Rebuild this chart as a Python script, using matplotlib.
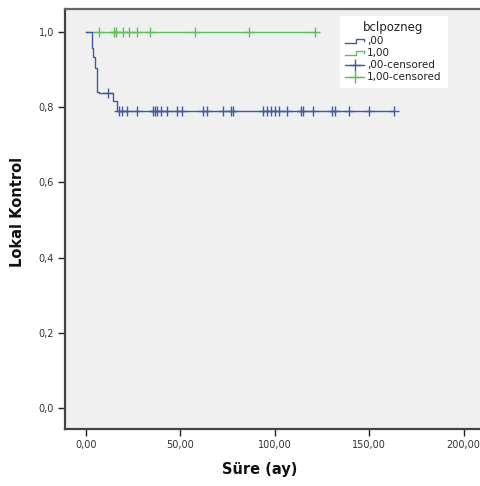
import numpy as np
import matplotlib
matplotlib.use("Agg")
import matplotlib.pyplot as plt
from matplotlib.lines import Line2D
from matplotlib.legend_handler import HandlerBase

# ---- data ----
blue_event_times = [0.0, 3.0, 3.9, 4.9, 5.7, 6.9, 14.5, 16.3]
blue_surv = [1.0, 0.958, 0.934, 0.905, 0.841, 0.837, 0.816, 0.790]
blue_censor_times = [11.7, 17.7, 19.1, 21.5, 27.2, 35.3, 36.4, 37.8, 39.5, 42.7,
                     48.4, 50.8, 61.8, 63.9, 72.7, 76.6, 77.7, 93.9, 95.7, 97.8,
                     99.9, 102.4, 106.3, 113.7, 114.8, 120.1, 130.3, 132.1,
                     139.1, 150.1, 163.1]
green_event_times = [0.0]
green_surv = [1.0]
green_censor_times = [7.1, 14.8, 15.9, 19.8, 22.9, 26.8, 33.9, 57.9, 86.2, 121.5]

x_ticks = [0, 50, 100, 150, 200]
x_ticklabels = ["0,00", "50,00", "100,00", "150,00", "200,00"]
y_ticks = [0.0, 0.2, 0.4, 0.6, 0.8, 1.0]
y_ticklabels = ["0,0", "0,2", "0,4", "0,6", "0,8", "1,0"]

legend_title = "bclpozneg"
group_labels = [",00", "1,00"]
censor_labels = [",00-censored", "1,00-censored"]

BLUE = "#4459A3"
GREEN = "#5CBF5C"


def surv_at(t, times, surv):
    idx = np.searchsorted(times, t, side="right") - 1
    return np.asarray(surv)[idx]


fig = plt.figure(figsize=(4.8, 4.86), dpi=100)
fig.patch.set_facecolor("white")
ax = fig.add_axes([65 / 480, 1 - 429 / 486, 415 / 480, 420 / 486])
ax.set_facecolor("#F0F0F0")


def draw_group(ev_t, ev_s, cens_t, color):
    end = max(max(cens_t), ev_t[-1])
    xs = list(ev_t) + [end]
    ys = list(ev_s) + [ev_s[-1]]
    ax.step(xs, ys, where="post", color=color, lw=1.0, zorder=3)
    cy = surv_at(np.array(cens_t), ev_t, ev_s)
    ax.plot(cens_t, cy, ls="none", marker="+", ms=7, mew=1.0, color=color, zorder=4)


draw_group(green_event_times, green_surv, green_censor_times, GREEN)
draw_group(blue_event_times, blue_surv, blue_censor_times, BLUE)

ax.set_xlim(-11.1, 208.7)
ax.set_ylim(-0.055, 1.0606)
ax.set_xticks(x_ticks)
ax.set_xticklabels(x_ticklabels)
ax.set_yticks(y_ticks)
ax.set_yticklabels(y_ticklabels)
ax.tick_params(direction="out", length=5, width=1, color="#222222",
               labelsize=7, labelcolor="#333333", pad=3)

for s in ["left", "bottom", "top"]:
    ax.spines[s].set_color("#444444")
    ax.spines[s].set_linewidth(1.6)
ax.spines["top"].set_color("#666666")
ax.spines["right"].set_visible(False)

ax.set_xlabel("Süre (ay)", fontsize=10.5, fontweight="bold", color="#111111")
ax.xaxis.set_label_coords((260 - 65) / 415, -(462 - 429) / 420)
ax.set_ylabel("Lokal Kontrol", fontsize=10.5, fontweight="bold", color="#111111")
ax.yaxis.set_label_coords((25 - 65) / 415, (429 - 212) / 420)


class StepHandler(HandlerBase):
    def create_artists(self, legend, orig_handle, xdescent, ydescent,
                       width, height, fontsize, trans):
        c = orig_handle.get_color()
        x0, x1 = -xdescent, -xdescent + width
        xm = x0 + width * 0.55
        yl = -ydescent + height * 0.15
        yh = -ydescent + height * 0.75
        l = Line2D([x0, xm, xm, x1, x1], [yl, yl, yh, yh, yh - height * 0.3],
                   color=c, lw=1.0, transform=trans)
        return [l]


h_blue = Line2D([], [], color=BLUE)
h_green = Line2D([], [], color=GREEN)
hc_blue = Line2D([], [], color=BLUE, marker="+", ms=9, lw=1.0)
hc_green = Line2D([], [], color=GREEN, marker="+", ms=9, lw=1.0)

leg = ax.legend([h_blue, h_green, hc_blue, hc_green],
                group_labels + censor_labels,
                handler_map={h_blue: StepHandler(), h_green: StepHandler()},
                title=legend_title, loc="upper left",
                bbox_to_anchor=((340 - 65) / 415, (429 - 15.7) / 420),
                fontsize=7.5, title_fontsize=8.5, frameon=True, fancybox=False,
                handlelength=1.8, handletextpad=0.3, labelspacing=0.2,
                borderpad=0.5, borderaxespad=0)
leg.get_frame().set_facecolor("white")
leg.get_frame().set_edgecolor("white")
leg.get_frame().set_alpha(1.0)
leg.get_title().set_color("#222222")
for t in leg.get_texts():
    t.set_color("#222222")

fig.savefig("out.png", dpi=100, facecolor="white")
